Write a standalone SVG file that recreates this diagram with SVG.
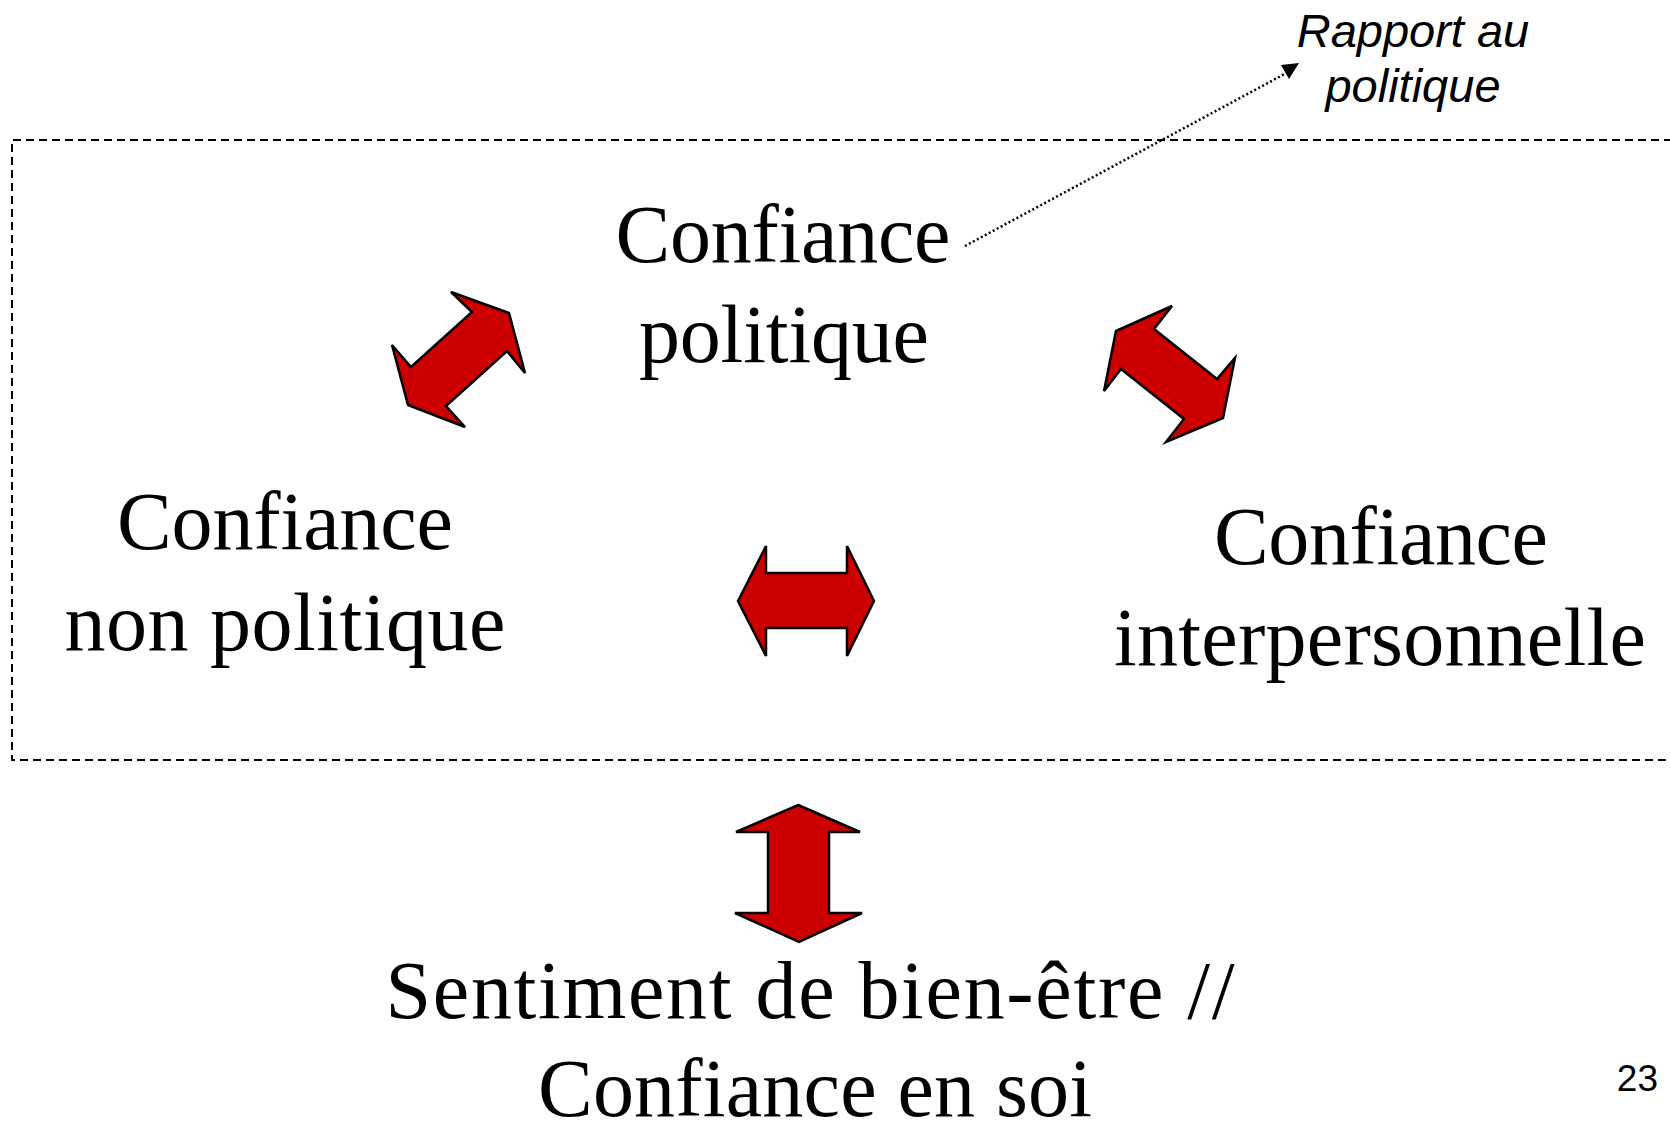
<svg xmlns="http://www.w3.org/2000/svg" width="1670" height="1121" viewBox="0 0 1670 1121">
<style>
.t{font-family:"Liberation Serif","Times New Roman",serif;font-size:82px;fill:#000;text-anchor:middle}
.n{font-family:"Liberation Sans",Arial,sans-serif;fill:#000}
.arr{fill:#CC0000;stroke:#000;stroke-width:2.5;stroke-linejoin:miter}
</style>
<rect width="1670" height="1121" fill="#fff"/>
<g id="frame">
<path d="M1672,140 H12 V760 H1672" fill="none" stroke="#000" stroke-width="2" stroke-dasharray="8 5"/>
</g>
<g id="connectors">
<line x1="965" y1="246" x2="1292" y2="70" stroke="#000" stroke-width="2.5" stroke-dasharray="2 2.5"/>
<polygon points="1281,65 1299,63 1289,79" fill="#000"/>
<polygon class="arr" points="451,292 509,313 525,373 507,351 446,406 465,427 408,405 392,345 411,367 472,312"/>
<polygon class="arr" points="1172,306 1154,329 1217,379 1235,358 1223,418 1166,442 1184,419 1121,369 1104,391 1116,331"/>
<polygon class="arr" points="738,601 766,546 766,573 847,573 847,546 874,601 847,656 847,628 766,628 766,656"/>
<polygon class="arr" points="798,805 860,832 829,832 829,913 862,913 799,942 735,913 768,913 768,832 736,832"/>
</g>
<g id="node-politique">
<text class="t" x="783" y="262" textLength="335">Confiance</text>
<text class="t" x="784" y="362" textLength="290">politique</text>
</g>
<g id="node-nonpolitique">
<text class="t" x="285" y="549" textLength="336">Confiance</text>
<text class="t" x="285" y="650" textLength="441">non politique</text>
</g>
<g id="node-interpersonnelle">
<text class="t" x="1381" y="564" textLength="334">Confiance</text>
<text class="t" x="1380" y="665" textLength="532">interpersonnelle</text>
</g>
<g id="node-bienetre">
<text class="t" x="810" y="1018" textLength="849">Sentiment de bien-être //</text>
<text class="t" x="815" y="1116" textLength="554">Confiance en soi</text>
</g>
<g id="node-rapport">
<text class="n" x="1413" y="47" font-size="47" font-style="italic" text-anchor="middle">Rapport au</text>
<text class="n" x="1413" y="102" font-size="47" font-style="italic" text-anchor="middle">politique</text>
</g>
<text class="n" x="1658" y="1091" font-size="37" text-anchor="end">23</text>
</svg>
